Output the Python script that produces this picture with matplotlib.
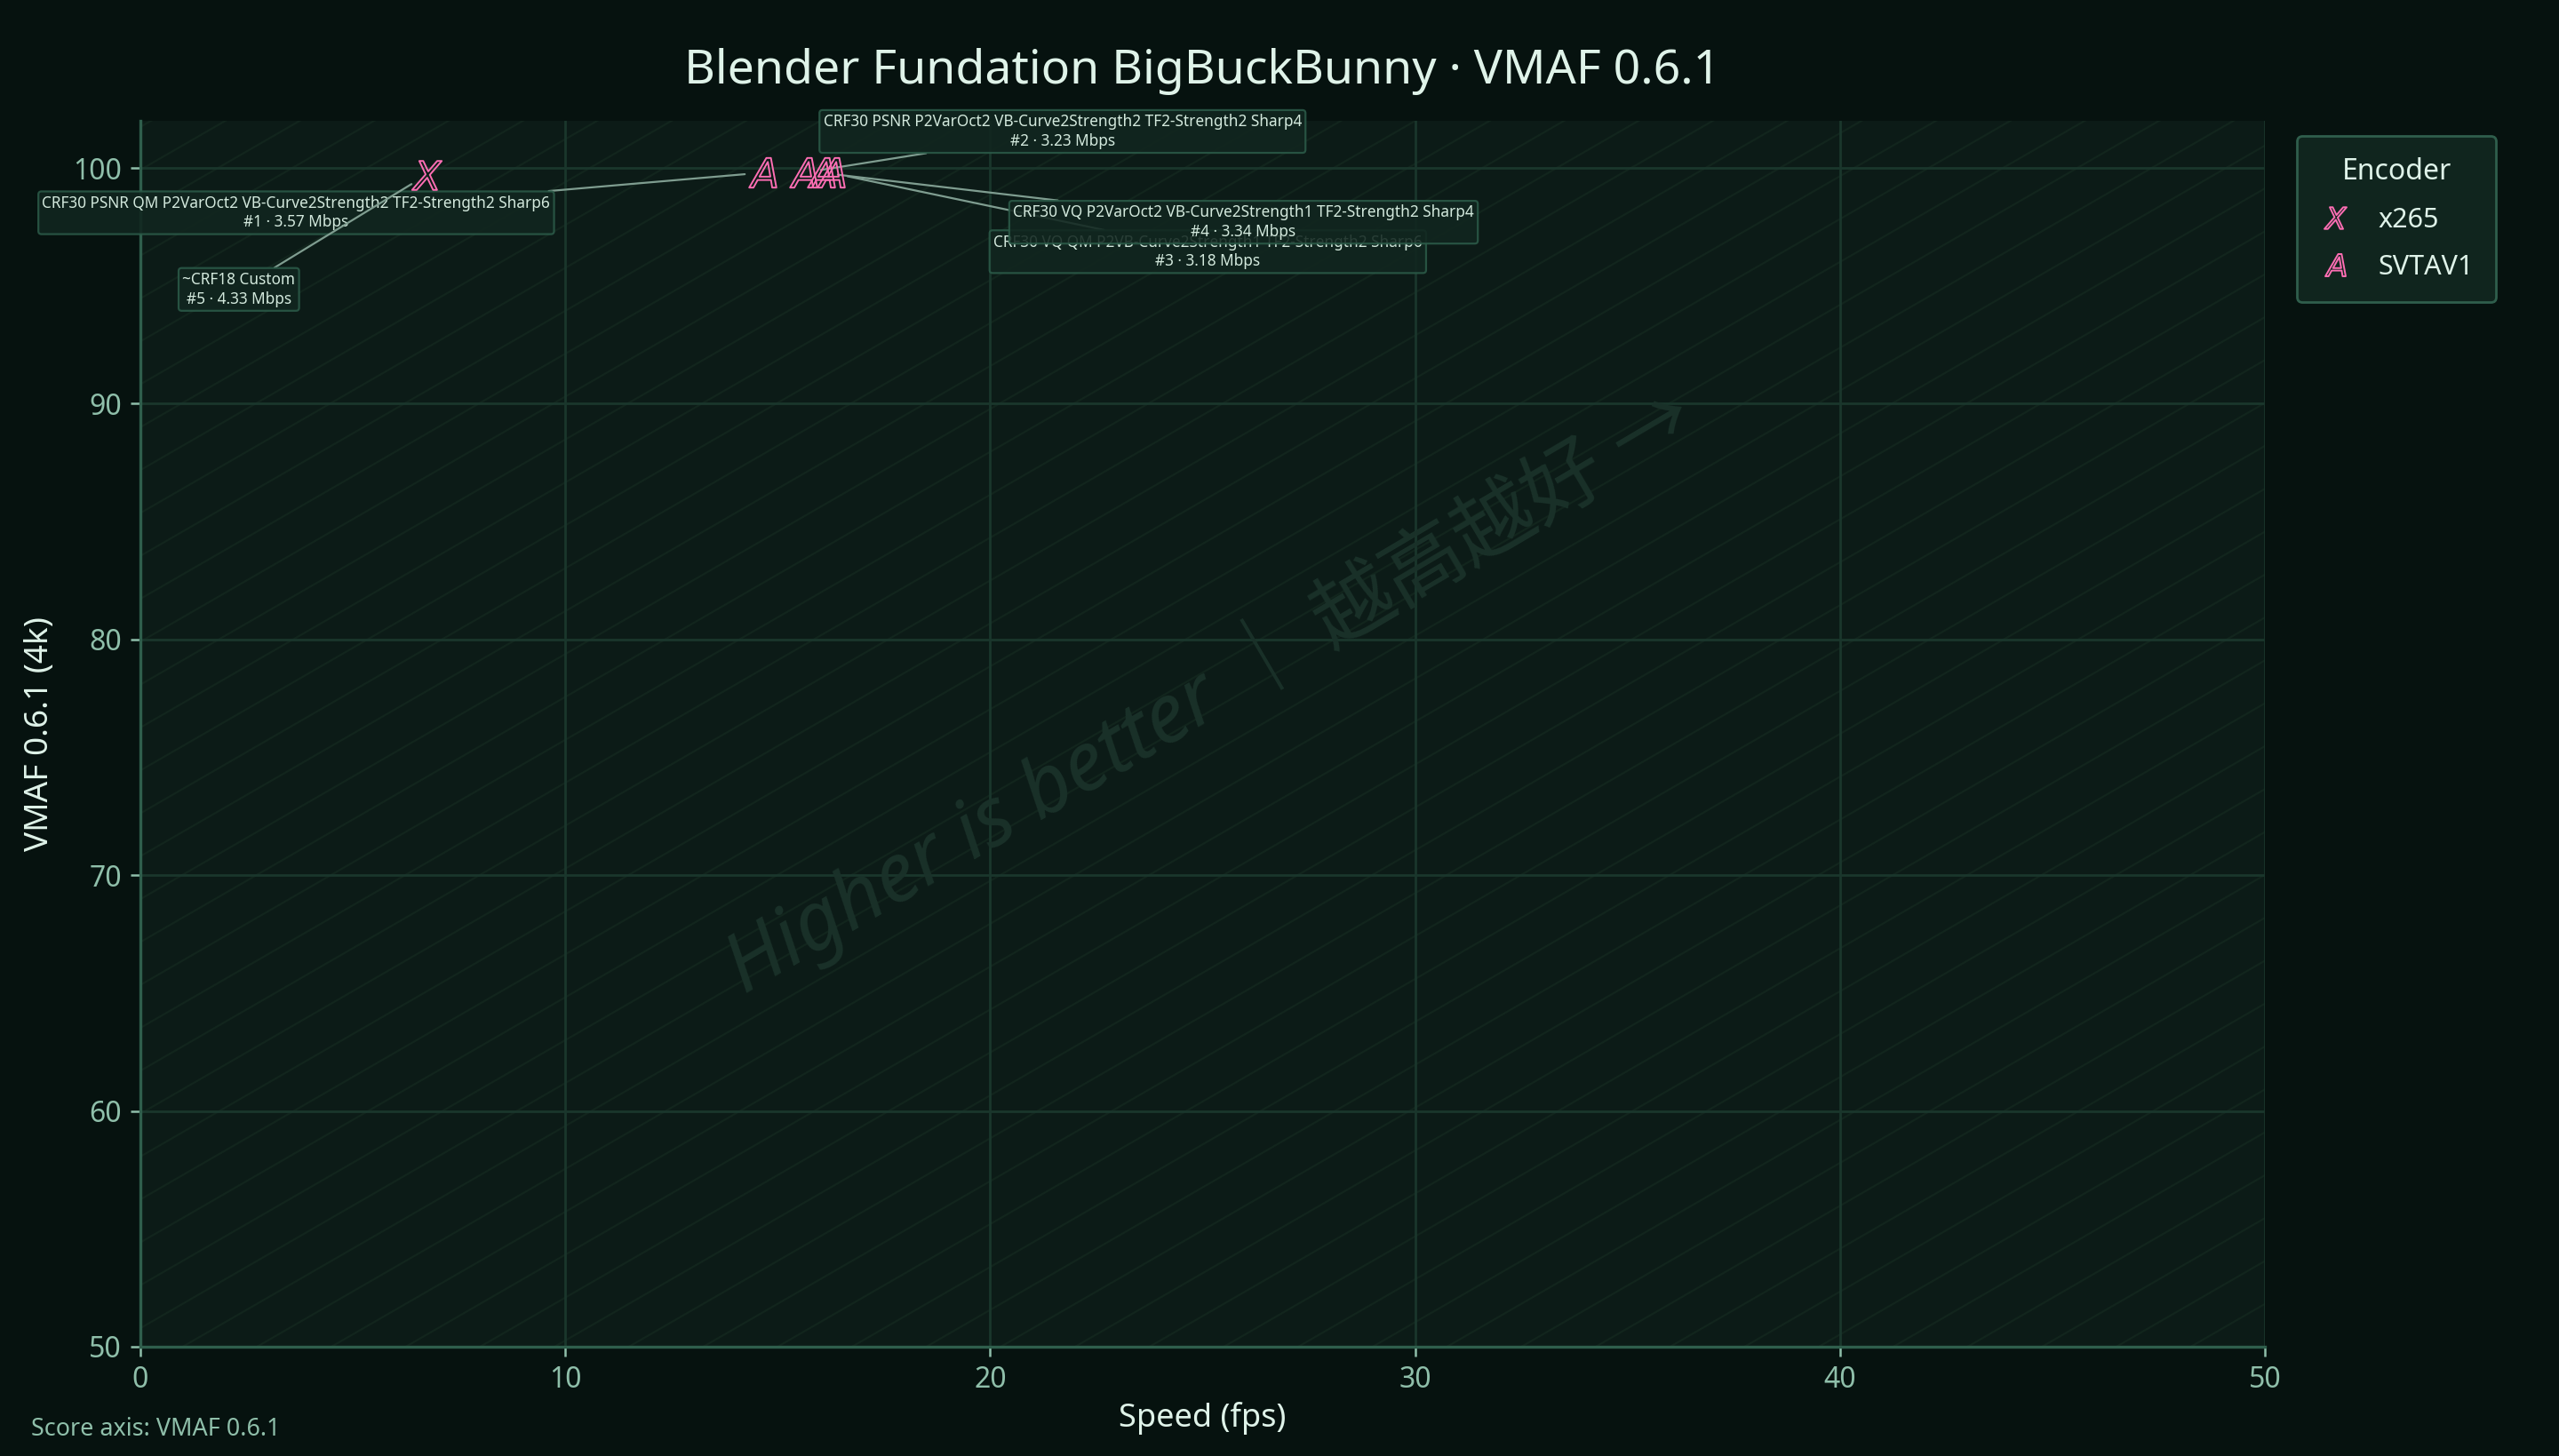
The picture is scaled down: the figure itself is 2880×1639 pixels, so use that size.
#%% Importing libraries

import numpy as np
from matplotlib import pyplot as plt

#%% Style

plt.rcParams['font.family'] = ['Noto Sans', 'Noto Sans CJK SC', 'DejaVu Sans']

fig_bg   = '#06120f'
ax_bg    = '#0c1b17'
grid_c   = '#1a362c'
spine_c  = '#2f5e4c'
tick_c   = '#8fbfaa'
text_c   = '#dff3e9'
pink     = '#ff6eb4'
stripe_c = '#12251d'

#%% Data

title   = 'Blender Fundation BigBuckBunny · VMAF 0.6.1'
xlabel  = 'Speed (fps)'
ylabel  = 'VMAF 0.6.1 (4k)'
footer  = 'Score axis: VMAF 0.6.1'
mark_tx = 'Higher is better ｜ 越高越好 →'

encoders = ['x265', 'SVTAV1']
markers  = ['$X$', '$A$']

x265_speed = [6.73]
x265_vmaf  = [99.7]

svt_speed = [14.63, 15.61, 16.01, 16.24]
svt_vmaf  = [99.8, 99.8, 99.8, 99.8]

# annotated points: (encoder index, point index), preset, rank, bitrate
ann_enc    = [1, 1, 1, 1, 0]
ann_idx    = [0, 1, 3, 2, 0]
ann_preset = ['CRF30 PSNR QM P2VarOct2 VB-Curve2Strength2 TF2-Strength2 Sharp6',
              'CRF30 PSNR P2VarOct2 VB-Curve2Strength2 TF2-Strength2 Sharp4',
              'CRF30 VQ QM P2VB-Curve2Strength1 TF2-Strength2 Sharp6',
              'CRF30 VQ P2VarOct2 VB-Curve2Strength1 TF2-Strength2 Sharp4',
              '~CRF18 Custom']
ann_rank   = [1, 2, 3, 4, 5]
ann_mbps   = [3.57, 3.23, 3.18, 3.34, 4.33]

# label box centres (data coords)
ann_pos = [(3.67, 98.1), (21.7, 101.55), (25.12, 96.45), (25.96, 97.7), (2.32, 94.85)]

#%% Plotting

fig = plt.figure(figsize = (14.4, 8.195), dpi = 200, facecolor = fig_bg)
ax  = fig.add_axes([0.0548, 0.0751, 0.8304, 0.8419])
ax.set_facecolor(ax_bg)

# diagonal stripes
for c in np.arange(-1.0, 1.0, 0.035):
    ax.plot([0, 1], [c, 1+c], transform = ax.transAxes, color = stripe_c, lw = 0.8, zorder = 0.5)

ax.text(0.503, 0.535, mark_tx, transform = ax.transAxes, rotation = 30.5, fontsize = 33,
        style = 'italic', color = '#1a3129', ha = 'center', va = 'center', zorder = 0.6)

ax.grid(True, color = grid_c, lw = 1.0, zorder = 0.7)
ax.set_axisbelow(True)

series = [(x265_speed, x265_vmaf), (svt_speed, svt_vmaf)]
for (sx, sy), name, m in zip(series, encoders, markers):
    ax.plot(sx, sy, linestyle = 'None', marker = m, ms = 12, mfc = 'none', mec = pink,
            markeredgewidth = 0.7, label = name, zorder = 5)

for k in range(len(ann_preset)):
    sx, sy = series[ann_enc[k]]
    px, py = sx[ann_idx[k]], sy[ann_idx[k]]
    ax.annotate('%s\n#%d · %.2f Mbps' % (ann_preset[k], ann_rank[k], ann_mbps[k]),
                xy = (px, py), xytext = ann_pos[k], textcoords = 'data',
                ha = 'center', va = 'center', fontsize = 6.2, color = '#d3e9dd',
                linespacing = 1.25, annotation_clip = False, zorder = 4,
                bbox = dict(boxstyle = 'round,pad=0.25,rounding_size=0.2', fc = '#11261f',
                            ec = '#2b5a48', lw = 0.8, alpha = 0.88),
                arrowprops = dict(arrowstyle = '-', color = '#7f9d90', lw = 0.8,
                                  shrinkA = 0, shrinkB = 7))

ax.set_xlim(0, 50)
ax.set_ylim(50, 102)
ax.set_xticks(np.arange(0, 51, 10))
ax.set_yticks(np.arange(50, 101, 10))

for s in ['top', 'right']:
    ax.spines[s].set_visible(False)
for s in ['left', 'bottom']:
    ax.spines[s].set_color(spine_c)
    ax.spines[s].set_linewidth(1.2)

ax.tick_params(colors = tick_c, labelsize = 11.5, length = 4, width = 0.9)

ax.set_xlabel(xlabel, fontsize = 13, color = text_c, labelpad = 3)
ax.set_ylabel(ylabel, fontsize = 13.3, color = text_c, labelpad = 7)
ax.set_title(title, fontsize = 19.3, color = text_c, pad = 15)

leg = ax.legend(title = 'Encoder', loc = 'upper left', bbox_to_anchor = (1.015, 0.988),
                borderaxespad = 0, fontsize = 11, title_fontsize = 11.5, markerscale = 0.75,
                frameon = True, fancybox = True, borderpad = 0.8, labelspacing = 0.75,
                handlelength = 1.2, handletextpad = 1.0)
leg.get_frame().set_facecolor('#10251e')
leg.get_frame().set_edgecolor(spine_c)
leg.get_frame().set_linewidth(1.0)
leg.get_frame().set_alpha(1)
leg.get_title().set_color(text_c)
for t in leg.get_texts():
    t.set_color(text_c)

fig.text(0.012, 0.018, footer, fontsize = 9.7, color = tick_c, ha = 'left', va = 'center')

plt.savefig('out.png', dpi = 200, facecolor = fig_bg)
